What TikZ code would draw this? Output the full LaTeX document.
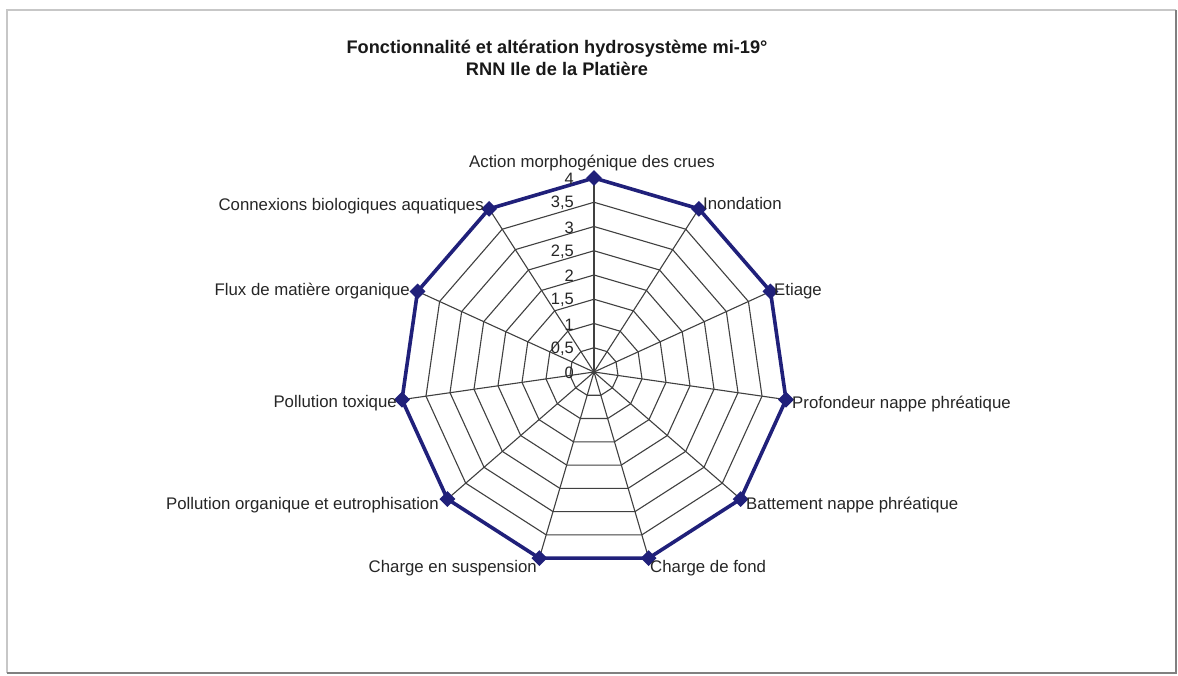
\documentclass[tikz,border=0pt]{standalone}
\usepackage{fontspec}
\setmainfont{Liberation Sans}
\usetikzlibrary{shapes.geometric}
\definecolor{navy}{RGB}{32,32,122}
\definecolor{txt}{RGB}{38,38,38}
\definecolor{gridc}{RGB}{64,64,64}
\tikzset{
  lbl/.style={font=\fontsize{16.8}{19}\selectfont, text=txt, inner sep=0pt},
  tick/.style={font=\fontsize{16.5}{19}\selectfont, text=txt, inner sep=0pt, anchor=east},
  gridline/.style={draw=gridc, line width=1.1pt},
  serie/.style={draw=navy, line width=3.6pt, line join=miter},
  marker/.style={diamond, fill=navy, minimum size=16pt, inner sep=0pt},
  titre/.style={font=\bfseries\fontsize{18.2}{22}\selectfont, text=black!90, align=center, inner sep=0pt}
}
\begin{document}
\begin{tikzpicture}[x=1pt,y=1pt]
\useasboundingbox (0,0) rectangle (1178,-675);
\fill[white] (0,0) rectangle (1178,-675);
% frame
\draw[black!22, line width=1.5pt] (7,-673) -- (7,-10) -- (1176,-10);
\draw[black!50, line width=1.8pt] (7,-673) -- (1176,-673) -- (1176,-10);
% title
\node[titre, anchor=base] (t1) at (557,-53) {Fonctionnalité et altération hydrosystème mi-19°};
\node[titre, anchor=base] (t2) at (557,-75) {RNN Ile de la Platière};
% radar
\begin{scope}[shift={(594,-372)}]
  \coordinate (O) at (0,0);
  \foreach \i in {0,...,10} {
    \coordinate (v\i) at ({90-\i*360/11}:194);
  }
  \foreach \r in {1,...,8} {
    \draw[gridline] (90:{\r*24.25})
      \foreach \i in {1,...,10} { -- ({90-\i*360/11}:{\r*24.25}) } -- cycle;
  }
  \foreach \i in {0,...,10} { \draw[gridline] (O) -- (v\i); }
  \fill[gridc] (O) circle (1.8pt);
  \draw[serie] (v0) -- (v1) -- (v2) -- (v3) -- (v4) -- (v5) -- (v6) -- (v7) -- (v8) -- (v9) -- (v10) -- cycle;
  \foreach \i in {0,...,10} { \node[marker] (m\i) at (v\i) {}; }
\end{scope}
% tick labels
\node[tick] (k0) at (574,-373) {0};
\node[tick] (k1) at (574,-349) {0,5};
\node[tick] (k2) at (574,-325) {1};
\node[tick] (k3) at (574,-300) {1,5};
\node[tick] (k4) at (574,-276) {2};
\node[tick] (k5) at (574,-252) {2,5};
\node[tick] (k6) at (574,-228) {3};
\node[tick] (k7) at (574,-203) {3,5};
\node[tick] (k8) at (574,-179) {4};
% axis labels
\node[lbl, anchor=base] (l0) at (592,-167) {Action morphogénique des crues};
\node[lbl, anchor=base west] (l1) at (703,-209) {Inondation};
\node[lbl, anchor=base west] (l2) at (774,-295) {Etiage};
\node[lbl, anchor=base west] (l3) at (792,-408) {Profondeur nappe phréatique};
\node[lbl, anchor=base west] (l4) at (746,-509) {Battement nappe phréatique};
\node[lbl, anchor=base west] (l5) at (650,-572) {Charge de fond};
\node[lbl, anchor=base east] (l6) at (537,-572) {Charge en suspension};
\node[lbl, anchor=base east] (l7) at (439,-509) {Pollution organique et eutrophisation};
\node[lbl, anchor=base east] (l8) at (397,-407) {Pollution toxique};
\node[lbl, anchor=base east] (l9) at (410,-295) {Flux de matière organique};
\node[lbl, anchor=base east] (l10) at (484,-210) {Connexions biologiques aquatiques};
\end{tikzpicture}
\end{document}
